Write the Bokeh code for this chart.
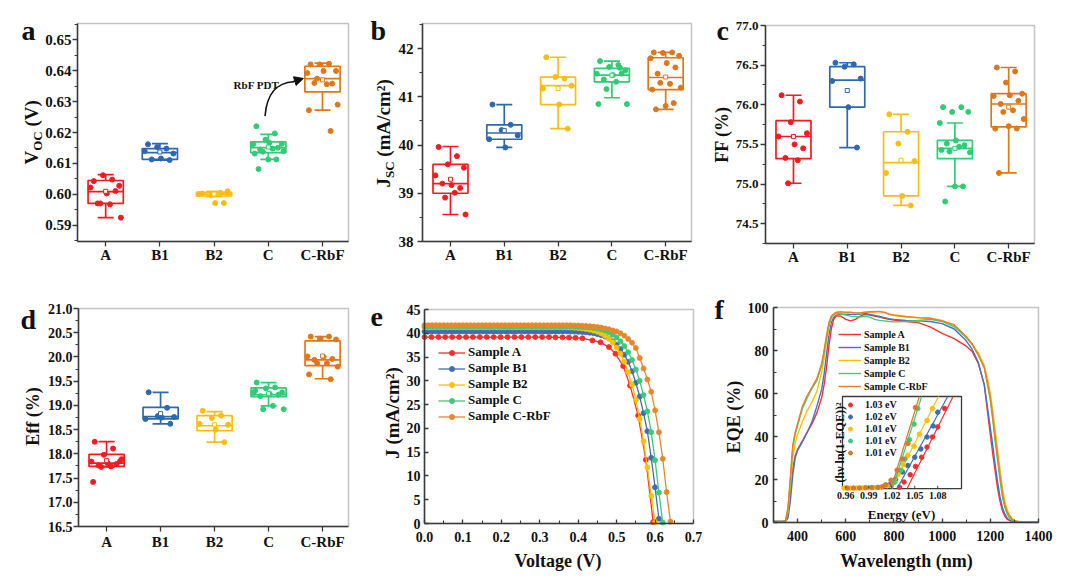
import math
from bokeh.plotting import figure
from bokeh.models import (Range1d, FixedTicker, Label, Legend, LegendItem, Arrow, LinearAxis,
                          NormalHead, NumeralTickFormatter, BoxAnnotation)
from bokeh.layouts import row, column
from bokeh.embed import file_html
from bokeh.resources import INLINE
from bokeh.core.properties import value

FONT = "Liberation Serif"
AX = "#3a3a3a"
TXT = "#111111"

# ---------------- categories / colours ----------------
CATS = ["A", "B1", "B2", "C", "C-RbF"]
CAT_POS = [1, 2, 3, 4, 5]
COLORS = ["#f51a1f", "#2e68b1", "#fcbc14", "#31cb74", "#df7719"]

# ---------------- (a) Voc ----------------
voc_A = [0.6043, 0.6048, 0.6062, 0.6028, 0.6022, 0.6003, 0.6011, 0.5971, 0.5968, 0.5971, 0.5925]
voc_B1 = [0.6162, 0.6148, 0.6153, 0.6132, 0.6140, 0.6116, 0.6111, 0.6113]
voc_B2 = [0.6003, 0.6005, 0.5998, 0.6010, 0.6001, 0.5972, 0.5972]
voc_C = [0.6220, 0.6197, 0.6177, 0.6164, 0.6162, 0.6167, 0.6151, 0.6145, 0.6148, 0.6138,
         0.6140, 0.6132, 0.6113, 0.6113, 0.6082]
voc_CR = [0.6420, 0.6422, 0.6420, 0.6399, 0.6392, 0.6399, 0.6358, 0.6360, 0.6356, 0.6374,
          0.6290, 0.6272, 0.6205]
voc_lo = [0.5925, 0.6111, 0.5993, 0.6113, 0.6272]
voc_q1 = [0.5971, 0.6113, 0.5995, 0.6135, 0.6331]
voc_med = [0.6009, 0.6135, 0.6001, 0.6151, 0.6374]
voc_q3 = [0.6045, 0.6148, 0.6007, 0.6170, 0.6414]
voc_hi = [0.6064, 0.6164, 0.6010, 0.6194, 0.6424]
voc_mean = [0.6010, 0.6137, 0.6001, 0.6153, 0.6370]
voc_ticks = [0.59, 0.60, 0.61, 0.62, 0.63, 0.64, 0.65]
voc_minor = [0.585, 0.595, 0.605, 0.615, 0.625, 0.635, 0.645, 0.655]

# ---------------- (b) Jsc ----------------
jsc_A = [39.96, 39.77, 39.60, 39.53, 39.37, 39.17, 39.11, 39.20, 39.01, 38.91, 38.56]
jsc_B1 = [40.84, 40.42, 40.31, 40.20, 40.12, 39.95]
jsc_B2 = [41.82, 41.38, 41.41, 41.23, 41.17, 40.84, 40.34]
jsc_C = [41.74, 41.66, 41.62, 41.55, 41.48, 41.45, 41.48, 41.36, 41.31, 41.16, 40.85, 40.85, 41.60]
jsc_CR = [41.92, 41.92, 41.91, 41.85, 41.80, 41.70, 41.61, 41.48, 41.27, 41.29, 41.19, 41.15,
          40.87, 40.81, 40.74]
jsc_lo = [38.56, 39.95, 40.34, 40.98, 40.74]
jsc_q1 = [39.00, 40.12, 40.84, 41.31, 41.15]
jsc_med = [39.20, 40.25, 41.23, 41.45, 41.40]
jsc_q3 = [39.60, 40.42, 41.41, 41.59, 41.81]
jsc_hi = [39.97, 40.84, 41.82, 41.74, 41.92]
jsc_mean = [39.29, 40.30, 41.17, 41.45, 41.41]
jsc_ticks = [38, 39, 40, 41, 42]
jsc_minor = [38.5, 39.5, 40.5, 41.5, 42.5]

# ---------------- (c) FF ----------------
ff_A = [76.12, 76.04, 75.78, 75.64, 75.60, 75.50, 75.45, 75.33, 75.30, 75.01]
ff_B1 = [76.53, 76.51, 76.48, 76.33, 76.30, 75.97, 75.46]
ff_B2 = [75.88, 75.66, 75.51, 75.29, 75.14, 74.85, 74.73]
ff_C = [75.97, 75.97, 75.91, 75.91, 75.77, 75.55, 75.49, 75.51, 75.47, 75.41, 75.40, 75.43,
        74.97, 74.97, 74.78]
ff_CR = [76.47, 76.42, 76.28, 76.14, 76.11, 76.12, 76.05, 76.01, 75.93, 75.91, 75.82, 75.70,
         75.70, 75.73, 75.14]
ff_lo = [75.01, 75.46, 74.73, 74.97, 75.14]
ff_q1 = [75.32, 75.97, 74.85, 75.32, 75.72]
ff_med = [75.60, 76.31, 75.27, 75.45, 76.01]
ff_q3 = [75.80, 76.48, 75.66, 75.55, 76.14]
ff_hi = [76.12, 76.53, 75.88, 75.77, 76.47]
ff_mean = [75.60, 76.18, 75.30, 75.45, 75.97]
ff_ticks = [74.5, 75.0, 75.5, 76.0, 76.5, 77.0]
ff_minor = [74.25, 74.75, 75.25, 75.75, 76.25, 76.75]

# ---------------- (d) Eff ----------------
eff_A = [18.25, 18.11, 17.98, 17.85, 17.84, 17.81, 17.79, 17.76, 17.74, 17.73, 17.89, 17.42]
eff_B1 = [19.27, 18.95, 18.78, 18.76, 18.72, 18.75, 18.62]
eff_B2 = [18.89, 18.79, 18.74, 18.60, 18.62, 18.50, 18.24]
eff_C = [19.47, 19.37, 19.35, 19.27, 19.26, 19.24, 19.22, 19.19, 18.99, 18.92, 18.92, 19.30]
eff_CR = [20.42, 20.42, 20.38, 20.36, 20.01, 20.00, 19.96, 19.94, 19.87, 19.87, 19.80, 19.64, 19.54]
eff_lo = [17.73, 18.62, 18.24, 18.99, 19.55]
eff_q1 = [17.74, 18.72, 18.48, 19.18, 19.82]
eff_med = [17.81, 18.77, 18.58, 19.22, 19.94]
eff_q3 = [17.99, 18.96, 18.79, 19.36, 20.33]
eff_hi = [18.25, 19.27, 18.87, 19.47, 20.42]
eff_mean = [17.86, 18.83, 18.60, 19.24, 20.02]
eff_ticks = [16.5, 17.0, 17.5, 18.0, 18.5, 19.0, 19.5, 20.0, 20.5, 21.0]
eff_minor = [16.75, 17.25, 17.75, 18.25, 18.75, 19.25, 19.75, 20.25, 20.75]

# ---------------- (e) J-V ----------------
JV_NAMES = ["Sample A", "Sample B1", "Sample B2", "Sample C", "Sample C-RbF"]
JV_COLORS = ["#ff2a2a", "#3d6db4", "#ffc000", "#3cc97a", "#e8862c"]
V_A = [0.000, 0.018, 0.036, 0.054, 0.072, 0.090, 0.108, 0.126, 0.144, 0.162, 0.180, 0.198,
       0.216, 0.234, 0.252, 0.270, 0.288, 0.306, 0.324, 0.341, 0.359, 0.376, 0.393, 0.411,
       0.437, 0.458, 0.480, 0.497, 0.517, 0.535, 0.556, 0.576, 0.595]
J_A = [39.2, 39.2, 39.2, 39.2, 39.2, 39.2, 39.2, 39.2, 39.2, 39.2, 39.2, 39.2,
       39.2, 39.2, 39.2, 39.2, 39.2, 39.2, 39.2, 39.15, 39.15, 39.1, 39.05, 38.95,
       38.5, 38.1, 37.1, 35.7, 33.1, 29.0, 22.7, 13.4, 0.3]
V_SWEEP = [0.00, 0.01, 0.02, 0.03, 0.04, 0.05, 0.06, 0.07, 0.08, 0.09,
           0.10, 0.11, 0.12, 0.13, 0.14, 0.15, 0.16, 0.17, 0.18, 0.19,
           0.20, 0.21, 0.22, 0.23, 0.24, 0.25, 0.26, 0.27, 0.28, 0.29,
           0.30, 0.31, 0.32, 0.33, 0.34, 0.35, 0.36, 0.37, 0.38, 0.39,
           0.40, 0.41, 0.42, 0.43, 0.44, 0.45, 0.46, 0.47, 0.48, 0.49,
           0.50, 0.51, 0.52, 0.53, 0.54, 0.55, 0.56, 0.57, 0.58, 0.59,
           0.60, 0.61, 0.62, 0.63, 0.64]
J_B1 = [40.4, 40.4, 40.4, 40.4, 40.4, 40.4, 40.4, 40.4, 40.4, 40.4,
        40.4, 40.4, 40.4, 40.4, 40.4, 40.4, 40.4, 40.4, 40.4, 40.4,
        40.4, 40.4, 40.4, 40.4, 40.4, 40.4, 40.4, 40.4, 40.4, 40.4,
        40.4, 40.4, 40.4, 40.4, 40.4, 40.4, 40.4, 40.4, 40.35, 40.35,
        40.3, 40.25, 40.2, 40.1, 40.0, 39.8, 39.6, 39.3, 38.9, 38.3,
        37.6, 36.7, 35.5, 34.0, 32.0, 29.6, 26.7, 23.2, 19.4, 13.8,
        7.6, 1.0]
J_B2 = [41.25, 41.25, 41.25, 41.25, 41.25, 41.25, 41.25, 41.25, 41.25, 41.25,
        41.25, 41.25, 41.25, 41.25, 41.25, 41.25, 41.25, 41.25, 41.25, 41.25,
        41.25, 41.25, 41.25, 41.25, 41.25, 41.25, 41.25, 41.25, 41.25, 41.25,
        41.25, 41.25, 41.25, 41.25, 41.25, 41.25, 41.25, 41.25, 41.2, 41.15,
        41.1, 41.0, 40.9, 40.75, 40.55, 40.3, 39.95, 39.5, 38.9, 38.1,
        37.0, 35.7, 34.0, 31.8, 29.2, 26.0, 22.0, 17.3, 11.8, 5.8,
        0.3]
J_C = [41.4, 41.4, 41.4, 41.4, 41.4, 41.4, 41.4, 41.4, 41.4, 41.4,
       41.4, 41.4, 41.4, 41.4, 41.4, 41.4, 41.4, 41.4, 41.4, 41.4,
       41.4, 41.4, 41.4, 41.4, 41.4, 41.4, 41.4, 41.4, 41.4, 41.4,
       41.4, 41.4, 41.4, 41.4, 41.4, 41.4, 41.4, 41.4, 41.4, 41.35,
       41.35, 41.3, 41.25, 41.2, 41.1, 41.0, 40.8, 40.55, 40.2, 39.7,
       39.1, 38.3, 37.3, 36.0, 34.4, 32.4, 30.0, 27.0, 23.6, 19.2,
       13.3, 6.5, 0.2]
J_CR = [41.7, 41.7, 41.7, 41.7, 41.7, 41.7, 41.7, 41.7, 41.7, 41.7,
        41.7, 41.7, 41.7, 41.7, 41.7, 41.7, 41.7, 41.7, 41.7, 41.7,
        41.7, 41.7, 41.7, 41.7, 41.7, 41.7, 41.7, 41.7, 41.7, 41.7,
        41.7, 41.7, 41.7, 41.7, 41.7, 41.7, 41.7, 41.7, 41.7, 41.65,
        41.65, 41.6, 41.55, 41.5, 41.4, 41.3, 41.2, 41.0, 40.85, 40.6,
        40.4, 40.0, 39.5, 38.8, 38.0, 36.9, 34.8, 32.6, 30.3, 27.7,
        23.8, 19.2, 13.6, 6.6, 0.4]
jv_xticks = [0.0, 0.1, 0.2, 0.3, 0.4, 0.5, 0.6, 0.7]
jv_xminor = [0.05, 0.15, 0.25, 0.35, 0.45, 0.55, 0.65]
jv_yticks = [0, 5, 10, 15, 20, 25, 30, 35, 40, 45]

# ---------------- (f) EQE ----------------
EQE_COLORS = ["#ff3030", "#4472c4", "#ffc000", "#3ccf7a", "#ee7d2a"]
WL = [300, 340, 350, 360, 370, 380, 390, 400, 410, 420,
      440, 460, 480, 500, 510, 520, 530, 540, 550, 560,
      580, 600, 620, 640, 660, 680, 700, 720, 740, 760,
      780, 800, 850, 900, 950, 1000, 1050, 1100, 1125, 1150,
      1175, 1190, 1200, 1210, 1220, 1230, 1240, 1250, 1260, 1270,
      1280, 1290, 1300, 1320, 1350, 1400]
EQE_A = [0.5, 0.5, 1.0, 4.0, 14.0, 25.0, 31.0, 34.0, 36.0, 38.0,
         42.0, 46.0, 51.0, 58.0, 64.0, 72.0, 82.0, 90.0, 94.5, 96.0,
         96.0, 94.5, 93.8, 94.5, 96.0, 96.8, 96.5, 96.0, 95.5, 95.0,
         94.5, 94.2, 93.5, 93.0, 91.0, 88.0, 85.5, 82.0, 79.5, 74.0,
         64.0, 50.0, 41.0, 32.0, 24.0, 16.0, 10.0, 5.5, 3.0, 1.5,
         1.0, 0.5, 0.2, 0.1, 0.1, 0.1]
EQE_B1 = [0.5, 0.5, 0.5, 2.0, 10.0, 22.0, 30.0, 33.5, 35.5, 37.5,
          42.0, 47.0, 54.0, 62.0, 69.0, 78.0, 87.0, 93.0, 95.5, 96.5,
          96.8, 97.0, 96.8, 96.8, 97.0, 97.2, 96.8, 96.3, 95.8, 95.3,
          94.8, 94.5, 94.0, 93.8, 93.5, 92.5, 90.0, 84.5, 80.5, 74.5,
          64.0, 52.0, 44.0, 36.0, 27.0, 19.0, 12.0, 7.0, 4.0, 2.0,
          1.0, 0.5, 0.3, 0.2, 0.1, 0.1]
EQE_B2 = [0.5, 0.5, 1.0, 5.0, 17.0, 30.0, 37.0, 41.0, 44.0, 47.0,
          52.0, 56.0, 61.0, 70.0, 76.0, 84.0, 91.0, 95.0, 96.5, 97.0,
          97.5, 97.3, 97.5, 97.5, 97.5, 97.8, 97.8, 98.0, 98.0, 97.5,
          96.8, 96.3, 95.5, 95.2, 95.0, 94.0, 91.5, 86.0, 82.5, 79.0,
          73.0, 66.0, 60.0, 52.0, 43.0, 34.0, 25.0, 16.0, 10.0, 6.0,
          3.5, 2.0, 1.0, 0.5, 0.3, 0.2]
EQE_C = [0.5, 0.5, 1.0, 6.0, 20.0, 35.0, 41.0, 45.0, 49.0, 53.0,
         58.0, 62.5, 66.0, 73.0, 79.0, 86.0, 92.0, 95.5, 97.0, 97.5,
         97.0, 96.5, 96.0, 95.8, 95.5, 96.0, 95.5, 94.5, 94.0, 93.8,
         93.5, 93.3, 93.5, 94.0, 94.5, 93.5, 91.0, 86.0, 83.0, 78.0,
         72.0, 63.0, 57.0, 48.0, 38.0, 29.0, 20.0, 12.0, 7.0, 4.0,
         2.0, 1.0, 0.5, 0.2, 0.1, 0.1]
EQE_CR = [0.5, 0.5, 1.0, 7.0, 21.0, 36.0, 42.0, 46.0, 50.0, 54.0,
          59.0, 63.0, 67.0, 74.0, 80.0, 87.0, 93.0, 96.0, 97.0, 97.8,
          98.0, 97.8, 97.8, 97.5, 97.5, 97.8, 98.0, 98.0, 98.2, 97.8,
          97.0, 96.5, 95.8, 95.3, 95.0, 93.8, 92.0, 86.5, 83.0, 78.0,
          72.0, 64.0, 58.0, 49.0, 40.0, 31.0, 22.0, 14.0, 8.0, 5.0,
          3.0, 1.5, 0.8, 0.3, 0.2, 0.1]
eqe_xticks = [400, 600, 800, 1000, 1200, 1400]
eqe_xminor = [300, 500, 700, 900, 1100, 1300]
eqe_yticks = [0, 20, 40, 60, 80, 100]
eqe_yminor = [10, 30, 50, 70, 90]

# inset: Tauc-like plot (arbitrary y units 0-100)
INS_LABELS = ["1.03 eV", "1.02 eV", "1.01 eV", "1.01 eV", "1.01 eV"]
INS_COLORS = ["#ff2a2a", "#3d6db4", "#ffc000", "#3cc97a", "#d9782a"]
ins_E_A = [1.030, 1.036, 1.044, 1.051, 1.059, 1.066, 1.073, 1.080, 1.089]
ins_Y_A = [1.5, 7, 15, 24, 34, 45, 56, 67, 87]
ins_E_B1 = [1.017, 1.025, 1.034, 1.041, 1.050, 1.058, 1.066, 1.074, 1.080]
ins_Y_B1 = [4, 10, 18, 25, 34, 43, 56, 68, 83]
ins_E_B2 = [0.958, 0.966, 0.974, 0.982, 0.990, 0.998, 1.006, 1.014, 1.022, 1.028, 1.035,
            1.041, 1.049, 1.056, 1.066, 1.073]
ins_Y_B2 = [0.5, 0.5, 0.6, 0.7, 0.8, 1.0, 1.5, 3, 7, 15, 26, 36, 46, 59, 74, 87]
ins_E_C = [1.024, 1.032, 1.037, 1.043, 1.049, 1.054]
ins_Y_C = [7, 20, 32, 53, 70, 87]
ins_E_CR = [0.962, 0.970, 0.978, 0.986, 0.994, 1.002, 1.008, 1.012, 1.019, 1.027, 1.034,
            1.041, 1.051]
ins_Y_CR = [0.5, 0.5, 0.6, 0.8, 1.0, 1.3, 2, 4, 9, 20, 32, 49, 88]
fit_E_A = [1.040, 1.100]
fit_E_B1 = [1.027, 1.093]
fit_E_B2 = [1.020, 1.081]
fit_E_C = [1.021, 1.059]
fit_E_CR = [1.019, 1.056]
fit_Y = [0, 100]
ins_ticks = [0.96, 0.99, 1.02, 1.05, 1.08]
ins_tick_labels = ["0.96", "0.99", "1.02", "1.05", "1.08"]

# ---------------- helpers ----------------
CW = {"V": .722, "O": .778, "C": .722, "(": .333, ")": .333, "J": .5, "S": .556,
      "m": .833, "A": .722, "/": .278, "c": .444, "²": .3, " ": .25}
JIT = [-0.22, 0.12, -0.05, 0.25, -0.28, 0.02, 0.18, -0.15, 0.08, -0.10, 0.28, -0.25, 0.15, 0.0, -0.18]
BASE_FIX = 0.3   # rendered baseline sits ~0.3 em lower than requested


def tw(s, size):
    return sum(CW.get(ch, 0.5) for ch in s) * size


def lab(p, text, x, y, size, angle=0.0, align="left", baseline="alphabetic", color=TXT):
    if angle == 0.0:
        y = y + BASE_FIX * size
    else:
        x = x - BASE_FIX * size
    p.add_layout(Label(x=x, y=y, x_units="screen", y_units="screen", text=text, angle=angle,
                       text_font=FONT, text_font_style="bold", text_font_size=f"{size}px",
                       text_align=align, text_baseline=baseline, text_color=color))


def rot_pieces(p, pieces, x0, y0):
    y = y0
    for txt, size, dx, gap in pieces:
        y += gap
        lab(p, txt, x0 + dx, y, size, angle=math.pi / 2)
        y += tw(txt, size)


def panel_fig(fw, fh, box, xr, yr, tick_in=False):
    """Figure whose whole canvas is the frame; the visible panel box (px from
    left / top) is mapped to the data ranges xr, yr and drawn with fixed axes."""
    L, R, T, B = box
    sx = (xr[1] - xr[0]) / (R - L)
    sy = (yr[1] - yr[0]) / (B - T)
    x_outer = (xr[0] - L * sx, xr[1] + (fw - R) * sx)
    y_outer = (yr[0] - (fh - B) * sy, yr[1] + T * sy)
    p = figure(width=fw, height=fh, x_range=Range1d(*x_outer), y_range=Range1d(*y_outer),
               output_backend="svg", toolbar_location=None,
               x_axis_location=None, y_axis_location=None, min_border=0)
    p.grid.visible = False
    p.outline_line_color = None
    p.background_fill_color = "white"
    p.border_fill_color = "white"
    xax = LinearAxis(fixed_location=yr[0], bounds=xr)
    yax = LinearAxis(fixed_location=xr[0], bounds=yr)
    for ax in (xax, yax):
        ax.axis_line_color = AX
        ax.axis_line_width = 1.5
        ax.major_tick_line_color = AX
        ax.major_tick_line_width = 1.3
        ax.minor_tick_line_color = AX
        ax.minor_tick_line_width = 1.1
        ax.major_label_text_font = FONT
        ax.major_label_text_font_style = "bold"
        ax.major_label_text_color = TXT
        if tick_in:
            ax.major_tick_in, ax.major_tick_out = 4, 0
            ax.minor_tick_in, ax.minor_tick_out = 3, 0
        else:
            ax.major_tick_in, ax.major_tick_out = 0, 5
            ax.minor_tick_in, ax.minor_tick_out = 0, 3
    p.add_layout(xax, "below")
    p.add_layout(yax, "left")
    p.add_layout(BoxAnnotation(left=xr[0], right=xr[1], bottom=yr[0], top=yr[1],
                               fill_color=None, fill_alpha=0, line_color=AX, line_width=1.5,
                               level="overlay"))
    return p, xax, yax


def box_panel(pts, lo, q1, med, q3, hi, mean, yr, yticks, yminor, yfmt,
              fw, fh, box, ysize, ystand, xstand):
    p, xax, yax = panel_fig(fw, fh, box, (0.48, 5.48), yr)
    p.vbar(x=CAT_POS, width=0.65, bottom=q1, top=q3, fill_color="white",
           line_color=COLORS, line_width=1.7)
    p.segment(x0=CAT_POS, y0=q3, x1=CAT_POS, y1=hi, line_color=COLORS, line_width=1.7)
    p.segment(x0=CAT_POS, y0=q1, x1=CAT_POS, y1=lo, line_color=COLORS, line_width=1.7)
    p.scatter(x=CAT_POS, y=hi, marker="dash", size=16, line_color=COLORS, line_width=1.7)
    p.scatter(x=CAT_POS, y=lo, marker="dash", size=16, line_color=COLORS, line_width=1.7)
    p.scatter(x=CAT_POS, y=med, marker="dash", size=35, line_color=COLORS, line_width=1.7)
    for k, vals in enumerate(pts):
        xs = [CAT_POS[k] + JIT[i % len(JIT)] for i in range(len(vals))]
        p.scatter(x=xs, y=vals, size=5, fill_color=COLORS[k], line_color=COLORS[k])
    p.scatter(x=CAT_POS, y=mean, marker="square", size=4, fill_color="white",
              line_color=COLORS, line_width=1)
    xax.ticker = FixedTicker(ticks=CAT_POS)
    xax.major_label_overrides = {c: n for c, n in zip(CAT_POS, CATS)}
    xax.major_label_text_font_size = "15px"
    xax.minor_tick_line_color = None
    xax.major_label_standoff = xstand
    yax.ticker = FixedTicker(ticks=yticks, minor_ticks=yminor)
    yax.formatter = NumeralTickFormatter(format=yfmt)
    yax.major_label_text_font_size = f"{ysize}px"
    yax.major_label_standoff = ystand
    return p


# ---------------- (a) ----------------
pa = box_panel([voc_A, voc_B1, voc_B2, voc_C, voc_CR], voc_lo, voc_q1, voc_med, voc_q3,
               voc_hi, voc_mean, (0.5848, 0.6552), voc_ticks, voc_minor, "0.00",
               360, 290, (77, 348, 23, 241), 15, 1, 0)
pa.bezier(x0=[3.94], y0=[0.6253], x1=[4.47], y1=[0.6364], cx0=[3.97], cy0=[0.6322],
          cx1=[4.15], cy1=[0.6362], line_color="#111111", line_width=1.6)
pa.add_layout(Arrow(x_start=4.45, y_start=0.6364, x_end=4.648, y_end=0.63745,
                    line_color="#111111", line_width=1.6,
                    end=NormalHead(size=9, fill_color="#111111", line_color="#111111")))
pa.add_layout(Label(x=3.78, y=0.6355, text="RbF PDT", text_font=FONT, text_font_style="bold",
                    text_font_size="11px", text_align="center", text_baseline="middle",
                    text_color=TXT))
rot_pieces(pa, [("V", 19, 0, 0), ("OC", 13, 4, 0), ("(V)", 19, 0, 4.75)], 37, 126)
lab(pa, "a", 21, 252, 28)

# ---------------- (b) ----------------
pb = box_panel([jsc_A, jsc_B1, jsc_B2, jsc_C, jsc_CR], jsc_lo, jsc_q1, jsc_med, jsc_q3,
               jsc_hi, jsc_mean, (38, 42.52), jsc_ticks, jsc_minor, "0",
               353, 290, (62, 331, 23, 241), 15, 4, 0)
rot_pieces(pb, [("J", 19, 0, 0), ("SC", 13, 4, 0), ("(mA/cm²)", 19, 0, 4.75)], 29, 103)
lab(pb, "b", 10, 252, 28)

# ---------------- (c) ----------------
pc = box_panel([ff_A, ff_B1, ff_B2, ff_C, ff_CR], ff_lo, ff_q1, ff_med, ff_q3,
               ff_hi, ff_mean, (74.25, 77.0), ff_ticks, ff_minor, "0.0",
               365, 290, (52, 321, 25, 243), 13, 2, 0)
lab(pc, "FF (%)", 14, 156, 18, angle=math.pi / 2, align="center")
lab(pc, "c", 3, 252, 28)

# ---------------- (d) ----------------
pd_ = box_panel([eff_A, eff_B1, eff_B2, eff_C, eff_CR], eff_lo, eff_q1, eff_med, eff_q3,
                eff_hi, eff_mean, (16.5, 21.0), eff_ticks, eff_minor, "0.0",
                360, 292, (78, 348, 18, 236), 14, 1, 2)
lab(pd_, "Eff (%)", 38, 166, 18, angle=math.pi / 2, align="center")
lab(pd_, "d", 20, 255, 28)

# ---------------- (e) ----------------
pe, exax, eyax = panel_fig(353, 292, (64, 333, 19, 233), (0, 0.7), (0, 45), tick_in=True)
jv_sets = [(V_A, J_A), (V_SWEEP[:len(J_B1)], J_B1), (V_SWEEP[:len(J_B2)], J_B2),
           (V_SWEEP[:len(J_C)], J_C), (V_SWEEP[:len(J_CR)], J_CR)]
e_items = []
for (vv, jj), name, col in zip(jv_sets, JV_NAMES, JV_COLORS):
    rl = pe.line(vv, jj, line_color=col, line_width=1.3)
    rs = pe.scatter(vv, jj, size=5, fill_color=col, line_color=col, line_width=0.8)
    e_items.append(LegendItem(label=name, renderers=[rl, rs]))
pe.add_layout(Legend(items=e_items, location=(78, 158), label_text_font=FONT,
                     label_text_font_style="bold", label_text_font_size="13px",
                     label_text_color=TXT, glyph_width=27, glyph_height=13, label_height=13,
                     spacing=0, padding=0, margin=0, label_standoff=3,
                     border_line_color=None, background_fill_alpha=0))
exax.ticker = FixedTicker(ticks=jv_xticks, minor_ticks=jv_xminor)
exax.formatter = NumeralTickFormatter(format="0.0")
eyax.ticker = FixedTicker(ticks=jv_yticks)
exax.major_label_text_font_size = "14px"
eyax.major_label_text_font_size = "14px"
exax.major_label_standoff = 8
eyax.major_label_standoff = 4
lab(pe, "Voltage (V)", 197.5, 16, 18, align="center")
lab(pe, "J (mA/cm²)", 38, 169.5, 19, angle=math.pi / 2, align="center")
lab(pe, "e", 10, 257, 28)

# ---------------- (f) ----------------
pf, fxax, fyax = panel_fig(365, 292, (60, 325, 17, 232), (300, 1400), (0, 100), tick_in=True)
f_items = []
for yy, name, col in zip([EQE_A, EQE_B1, EQE_B2, EQE_C, EQE_CR], JV_NAMES, EQE_COLORS):
    rl = pf.line(WL, yy, line_color=col, line_width=1.4)
    f_items.append(LegendItem(label=name, renderers=[rl]))
pf.add_layout(Legend(items=f_items, location=(125, 190), label_text_font=FONT,
                     label_text_font_style="bold", label_text_font_size="10px",
                     label_text_color=TXT, glyph_width=23, glyph_height=12, label_height=12,
                     spacing=1, padding=0, margin=0, label_standoff=3,
                     border_line_color=None, background_fill_alpha=0))
fxax.ticker = FixedTicker(ticks=eqe_xticks, minor_ticks=eqe_xminor)
fyax.ticker = FixedTicker(ticks=eqe_yticks, minor_ticks=eqe_yminor)
fxax.formatter = NumeralTickFormatter(format="0")
fyax.formatter = NumeralTickFormatter(format="0")
fxax.major_label_text_font_size = "14px"
fyax.major_label_text_font_size = "14px"
fxax.major_label_standoff = 8
fyax.major_label_standoff = 5
lab(pf, "Wavelength (nm)", 193, 16, 18, align="center")
lab(pf, "EQE (%)", 26, 165.5, 18, angle=math.pi / 2, align="center")
lab(pf, "f", 1, 265, 28)

# inset via sub-coordinates
ins_x = Range1d(0.9557, 1.111)
ins_y = Range1d(0, 100)
sub = pf.subplot(x_source=ins_x, y_source=ins_y,
                 x_target=Range1d(586.4, 1080.4), y_target=Range1d(15.8, 58.6))
sub.quad(left=[ins_x.start], right=[ins_x.end], bottom=[ins_y.start], top=[ins_y.end],
         fill_color="white", line_color=AX, line_width=1.3)
ins_items = []
for (ee, yy), (fe, col), name in zip(
        [(ins_E_A, ins_Y_A), (ins_E_B1, ins_Y_B1), (ins_E_B2, ins_Y_B2),
         (ins_E_C, ins_Y_C), (ins_E_CR, ins_Y_CR)],
        [(fit_E_A, INS_COLORS[0]), (fit_E_B1, INS_COLORS[1]), (fit_E_B2, INS_COLORS[2]),
         (fit_E_C, INS_COLORS[3]), (fit_E_CR, INS_COLORS[4])],
        INS_LABELS):
    sub.line(fe, fit_Y, line_color=col, line_width=1.2)
    rs = sub.scatter(ee, yy, size=4.5, fill_color=col, line_color=col)
    ins_items.append(LegendItem(label=name, renderers=[rs]))
sub.segment(x0=ins_ticks, y0=[0] * len(ins_ticks), x1=ins_ticks, y1=[3] * len(ins_ticks),
            line_color=AX, line_width=1)
sub.text(x=ins_ticks, y=[0] * len(ins_ticks), text=ins_tick_labels, y_offset=3,
         text_font=value(FONT), text_font_style="bold", text_font_size="10px",
         text_align="center", text_baseline="top", text_color=TXT)
pf.add_layout(Legend(items=ins_items, location=(132, 124), label_text_font=FONT,
                     label_text_font_style="bold", label_text_font_size="10px",
                     label_text_color=TXT, glyph_width=10, glyph_height=11, label_height=11,
                     spacing=1, padding=0, margin=0, label_standoff=10,
                     border_line_color=None, background_fill_alpha=0))
lab(pf, "Energy (eV)", 188, 64, 13, align="center")
lab(pf, "(hν ln(1-EQE))²", 130, 140, 12, angle=math.pi / 2, align="center")

layout = column(row(pa, pb, pc), row(pd_, pe, pf))
open("out.html", "w").write(file_html(layout, INLINE))
